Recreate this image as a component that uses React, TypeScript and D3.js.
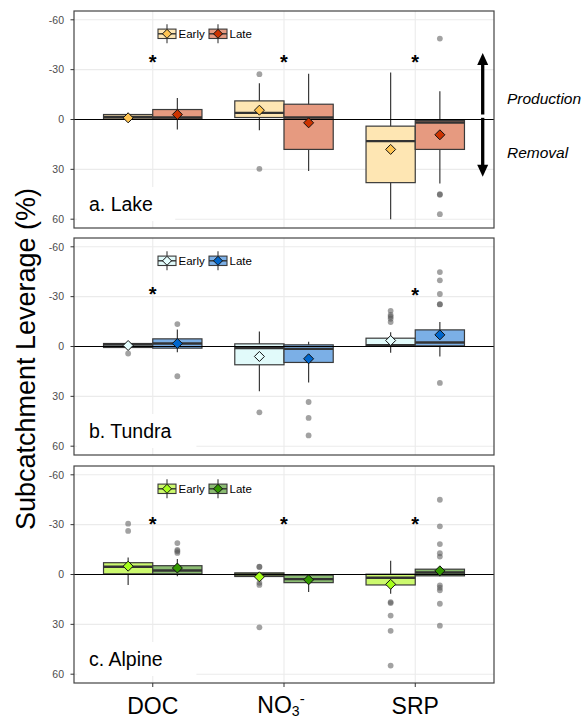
import * as d3 from "d3";

// categories and groups
const categories = ["DOC", "NO3", "SRP"];
const periods = ["Early", "Late"];
const yTicks = [-60, -30, 0, 30, 60];

type Box = {
  cat: string;
  period: string;
  wMin: number;
  q1: number;
  med: number;
  q3: number;
  wMax: number;
  mean: number;
  out: number[];
};

// a. Lake
const lakeStats: Box[] = [
  { cat: "DOC", period: "Early", wMin: -4, q1: -3, med: -1.5, q3: -0.3, wMax: 1, mean: -1, out: [] },
  { cat: "DOC", period: "Late", wMin: -13, q1: -6, med: -1.2, q3: -0.2, wMax: 6, mean: -3, out: [] },
  { cat: "NO3", period: "Early", wMin: -21.8, q1: -11.2, med: -4, q3: -1.2, wMax: 6.4, mean: -5.6, out: [-27.3, 29.7] },
  { cat: "NO3", period: "Late", wMin: -27.5, q1: -9.2, med: -1.2, q3: 18, wMax: 31, mean: 2, out: [] },
  { cat: "SRP", period: "Early", wMin: -28.3, q1: 4, med: 13, q3: 38, wMax: 60, mean: 18, out: [] },
  { cat: "SRP", period: "Late", wMin: -17, q1: 0.6, med: 1.8, q3: 18, wMax: 38.5, mean: 9.2, out: [-48.7, 45, 45.3, 57] },
];

// b. Tundra
const tundraStats: Box[] = [
  { cat: "DOC", period: "Early", wMin: -2.2, q1: -1.8, med: -1.2, q3: 0.6, wMax: 1, mean: -0.6, out: [4.2] },
  { cat: "DOC", period: "Late", wMin: -10.3, q1: -4.6, med: -1.8, q3: 1, wMax: 3.4, mean: -1.8, out: [-13.5, 17.9] },
  { cat: "NO3", period: "Early", wMin: -9, q1: -1.6, med: 1, q3: 11, wMax: 27, mean: 6, out: [39.6] },
  { cat: "NO3", period: "Late", wMin: -2.8, q1: -1, med: 1.4, q3: 9.6, wMax: 21.7, mean: 7.4, out: [33.4, 43, 53.5] },
  { cat: "SRP", period: "Early", wMin: -8.6, q1: -5, med: -0.8, q3: -0.4, wMax: 3.8, mean: -3.6, out: [-21.5, -19, -17.9, -16.7, -14.7] },
  { cat: "SRP", period: "Late", wMin: -14.7, q1: -10, med: -2.4, q3: -0.4, wMax: 6, mean: -7, out: [-44.8, -39.8, -31.6, -25.5, -25.3, 21.9] },
];

// c. Alpine
const alpineStats: Box[] = [
  { cat: "DOC", period: "Early", wMin: -10.3, q1: -7.1, med: -4.7, q3: -0.4, wMax: 6.3, mean: -5, out: [-30.6, -26.2] },
  { cat: "DOC", period: "Late", wMin: -9.3, q1: -5.3, med: -2.4, q3: -0.4, wMax: 1, mean: -3.9, out: [-18.9, -14.8, -14, -13] },
  { cat: "NO3", period: "Early", wMin: -1.5, q1: -1, med: 0, q3: 1.2, wMax: 1.5, mean: 1.4, out: [-4.7, -4.5, 5, 6.3, 31.8] },
  { cat: "NO3", period: "Late", wMin: 0, q1: 0.4, med: 2.8, q3: 4.9, wMax: 10.5, mean: 3.2, out: [] },
  { cat: "SRP", period: "Early", wMin: -8.3, q1: -0.2, med: 2, q3: 6.3, wMax: 11.6, mean: 5.9, out: [16.6, 17.2, 24.7, 33.9, 54.8] },
  { cat: "SRP", period: "Late", wMin: -3.5, q1: -3.2, med: -1.2, q3: 0.8, wMax: 1, mean: -2.2, out: [-45, -29, -18.3, -12.8, -10.8, 6.5, 7.9, 9.5, 17.6, 30.8] },
];

// significance stars
const lakeStars = [{ cat: "DOC", y: -36.7 }, { cat: "NO3", y: -36.7 }, { cat: "SRP", y: -36.7 }];
const tundraStars = [{ cat: "DOC", y: -33.4 }, { cat: "SRP", y: -33 }];
const alpineStars = [{ cat: "DOC", y: -32 }, { cat: "NO3", y: -32 }, { cat: "SRP", y: -32 }];

const lakeFills = ["#FEE6B3", "#E69A80"];
const lakeDiamonds = ["#FFC451", "#CC3300"];
const tundraFills = ["#E1FAFA", "#7BAFE6"];
const tundraDiamonds = ["#E6FFFF", "#0066CC"];
const alpineFills = ["#CCF96E", "#8BBC72"];
const alpineDiamonds = ["#A6FF1A", "#339900"];

const panels = [
  { label: "a. Lake", stats: lakeStats, stars: lakeStars, fills: lakeFills, diamonds: lakeDiamonds, top: 11, arrow: true },
  { label: "b. Tundra", stats: tundraStats, stars: tundraStars, fills: tundraFills, diamonds: tundraDiamonds, top: 238, arrow: false },
  { label: "c. Alpine", stats: alpineStats, stars: alpineStars, fills: alpineFills, diamonds: alpineDiamonds, top: 466, arrow: false },
];

const W = 588;
const H = 721;
const left = 74;
const right = 494;
const panelH = 217;
const font = "'Liberation Sans', Arial, Helvetica, sans-serif";
const boxStroke = "#3a3a3a";

const x = d3.scalePoint<string>().domain(categories).range([left, right]).padding(0.6);
const step = x.step();
const boxW = step * 0.375;
const dodge = (p: string) => (p === "Early" ? -boxW / 2 : boxW / 2);

function Diamond({ cx, cy, r, fill }: { cx: number; cy: number; r: number; fill: string }) {
  return (
    <path
      d={`M${cx},${cy - r}L${cx + r},${cy}L${cx},${cy + r}L${cx - r},${cy}Z`}
      fill={fill}
      stroke="#111"
      strokeWidth={1}
    />
  );
}

function Panel({ p }: { p: (typeof panels)[number] }) {
  const y = d3.scaleLinear().domain([-65.3, 65.3]).range([p.top, p.top + panelH]);
  const legendY = p.top + 22.8;
  const keyX = [158, 209];
  const labelX = 89;
  const labelBase = p.top + 200;
  const labelW = p.label.length * 10.6;

  return (
    <g>
      <rect x={left} y={p.top} width={right - left} height={panelH} fill="#fff" />
      {/* grid */}
      {yTicks.map((t) => (
        <line key={"gy" + t} x1={left} x2={right} y1={y(t)} y2={y(t)} stroke="#EBEBEB" strokeWidth={1.1} />
      ))}
      {categories.map((c) => (
        <line key={"gx" + c} x1={x(c)} x2={x(c)} y1={p.top} y2={p.top + panelH} stroke="#EBEBEB" strokeWidth={1.1} />
      ))}
      {/* panel label background */}
      <rect x={labelX - 12} y={labelBase - 24} width={labelW + 24} height={34} fill="#fff" />

      {/* boxes */}
      {p.stats.map((b, i) => {
        const cx = (x(b.cat) as number) + dodge(b.period);
        const k = periods.indexOf(b.period);
        return (
          <g key={i}>
            <line x1={cx} x2={cx} y1={y(b.wMin)} y2={y(b.wMax)} stroke={boxStroke} strokeWidth={1.2} />
            <rect
              x={cx - boxW / 2}
              y={y(b.q1)}
              width={boxW}
              height={Math.max(y(b.q3) - y(b.q1), 0.5)}
              fill={p.fills[k]}
              stroke={boxStroke}
              strokeWidth={1.2}
            />
            <line x1={cx - boxW / 2} x2={cx + boxW / 2} y1={y(b.med)} y2={y(b.med)} stroke="#333" strokeWidth={2.4} />
            {b.out.map((o, j) => (
              <circle key={j} cx={cx} cy={y(o)} r={2.9} fill="#555" fillOpacity={0.55} />
            ))}
          </g>
        );
      })}
      {/* zero line */}
      <line x1={left} x2={right} y1={y(0)} y2={y(0)} stroke="#000" strokeWidth={1.2} />
      {/* means */}
      {p.stats.map((b, i) => {
        const cx = (x(b.cat) as number) + dodge(b.period);
        const k = periods.indexOf(b.period);
        return <Diamond key={"m" + i} cx={cx} cy={y(b.mean)} r={5} fill={p.diamonds[k]} />;
      })}
      {/* stars */}
      {p.stars.map((s, i) => (
        <text
          key={"s" + i}
          x={x(s.cat)}
          y={y(s.y) + 10}
          textAnchor="middle"
          fontFamily={font}
          fontWeight="bold"
          fontSize={20}
          fill="#000"
        >
          *
        </text>
      ))}
      {/* legend */}
      {periods.map((per, k) => {
        const kx = keyX[k];
        const kw = 18;
        const cx = kx + kw / 2;
        return (
          <g key={per}>
            <line x1={cx} x2={cx} y1={legendY - 9.5} y2={legendY + 9.5} stroke={boxStroke} strokeWidth={1.1} />
            <rect x={kx} y={legendY - 4.7} width={kw} height={9.4} fill={p.fills[k]} stroke={boxStroke} strokeWidth={1.1} />
            <line x1={kx} x2={kx + kw} y1={legendY} y2={legendY} stroke="#333" strokeWidth={1.4} />
            <Diamond cx={cx} cy={legendY} r={4.5} fill={p.diamonds[k]} />
            <text x={kx + kw + 2.5} y={legendY + 4} fontFamily={font} fontSize={11.5} fill="#000">
              {per}
            </text>
          </g>
        );
      })}
      {/* panel label */}
      <text x={labelX} y={labelBase} fontFamily={font} fontSize={19.5} fill="#000">
        {p.label}
      </text>
      {/* arrows */}
      {p.arrow && (
        <g>
          <line x1={482.7} x2={482.7} y1={y(-3)} y2={y(-40) + 10} stroke="#000" strokeWidth={3.3} />
          <path d={`M482.7,${y(-40)}L488.2,${y(-40) + 12}L477.2,${y(-40) + 12}Z`} fill="#000" />
          <line x1={482.7} x2={482.7} y1={y(-1)} y2={y(34.5) - 10} stroke="#000" strokeWidth={3.3} />
          <path d={`M482.7,${y(34.5)}L488.2,${y(34.5) - 12}L477.2,${y(34.5) - 12}Z`} fill="#000" />
        </g>
      )}
      {/* border */}
      <rect x={left} y={p.top} width={right - left} height={panelH} fill="none" stroke="#444" strokeWidth={1.2} />
      {/* y axis */}
      {yTicks.map((t) => (
        <g key={"t" + t}>
          <line x1={left - 3.5} x2={left} y1={y(t)} y2={y(t)} stroke="#333" strokeWidth={1} />
          <text
            x={64}
            y={y(t)}
            dy="0.36em"
            textAnchor="end"
            fontFamily={font}
            fontSize={10.5}
            fill="#4D4D4D"
          >
            {t}
          </text>
        </g>
      ))}
    </g>
  );
}

export default function App() {
  const bottom = panels[2].top + panelH;
  return (
    <svg
      width={W}
      height={H}
      style={{ position: "absolute", left: 0, top: 0, background: "#fff" }}
    >
      <rect width={W} height={H} fill="#fff" />
      {panels.map((p) => (
        <Panel key={p.label} p={p} />
      ))}
      {/* x axis */}
      {categories.map((c) => (
        <line key={c} x1={x(c)} x2={x(c)} y1={bottom} y2={bottom + 4} stroke="#333" strokeWidth={1} />
      ))}
      <text x={x("DOC")} y={714} textAnchor="middle" fontFamily={font} fontSize={23} fill="#000">
        DOC
      </text>
      <text x={(x("NO3") as number) - 3} y={713} textAnchor="middle" fontFamily={font} fontSize={23} fill="#000">
        NO
        <tspan fontSize={14} dy={3}>3</tspan>
        <tspan fontSize={15} dy={-12}>-</tspan>
      </text>
      <text x={x("SRP")} y={714} textAnchor="middle" fontFamily={font} fontSize={23} fill="#000">
        SRP
      </text>
      {/* y label */}
      <text
        transform={`translate(35,359) rotate(-90)`}
        textAnchor="middle"
        fontFamily={font}
        fontSize={27}
        fill="#000"
      >
        Subcatchment Leverage (%)
      </text>
      {/* annotations */}
      <text x={507} y={104.3} fontFamily={font} fontStyle="italic" fontSize={15.5} fill="#000">
        Production
      </text>
      <text x={507} y={158.3} fontFamily={font} fontStyle="italic" fontSize={15.5} fill="#000">
        Removal
      </text>
    </svg>
  );
}
